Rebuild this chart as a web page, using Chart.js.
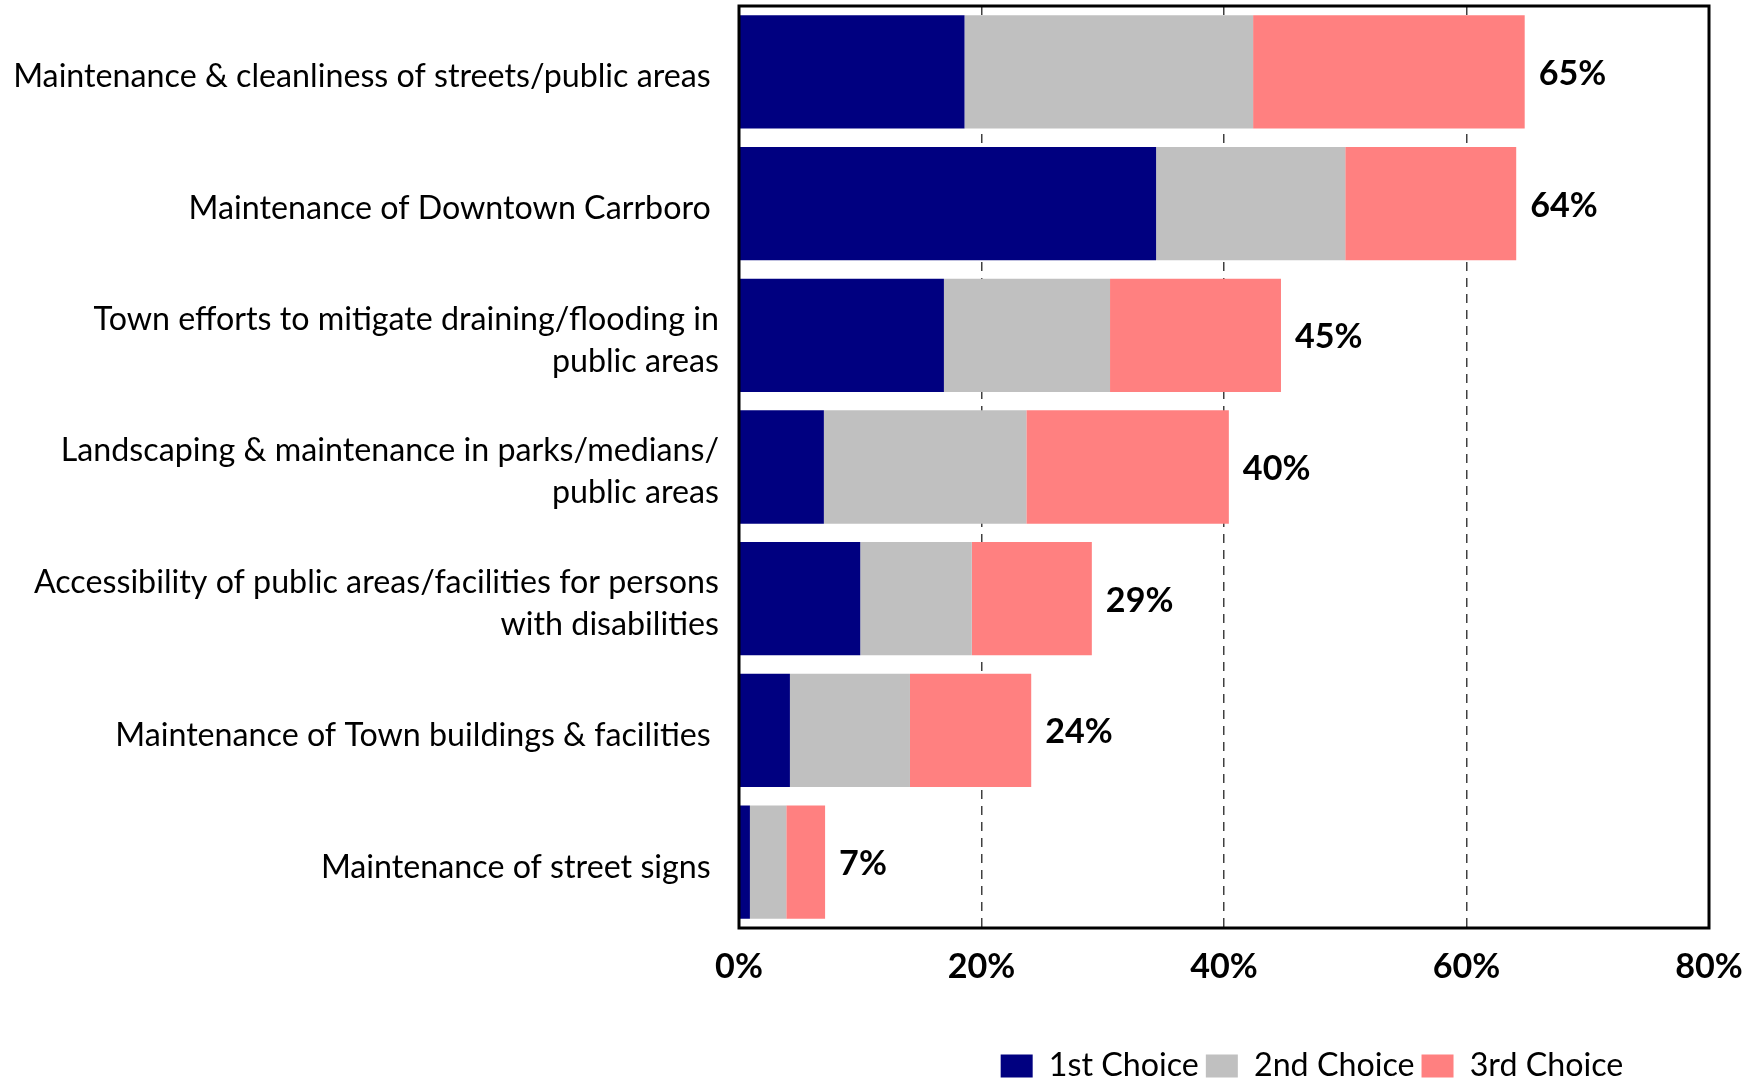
<!DOCTYPE html>
<html>
<head>
<meta charset="utf-8">
<script src="https://cdn.jsdelivr.net/npm/chart.js@4/dist/chart.umd.min.js"></script>
<style>
html,body{margin:0;padding:0;background:#fff;}
#wrap{width:1754px;height:1078px;position:relative;}
</style>
</head>
<body>
<div id="wrap"><canvas id="c" width="1754" height="1078"></canvas></div>
<script>
// ---- data ----
const categories = [
  'Maintenance & cleanliness of streets/public areas ',
  'Maintenance of Downtown Carrboro ',
  ['Town efforts to mitigate draining/flooding in', 'public areas'],
  ['Landscaping & maintenance in parks/medians/', 'public areas'],
  ['Accessibility of public areas/facilities for persons', 'with disabilities'],
  'Maintenance of Town buildings & facilities ',
  'Maintenance of street signs '
];
const seriesNames = ['1st Choice', '2nd Choice', '3rd Choice'];
const firstChoice  = [18.6, 34.4, 16.9, 7.0, 10.0, 4.2, 0.9];
const secondChoice = [23.8, 15.6, 13.7, 16.7, 9.2, 9.9, 3.0];
const thirdChoice  = [22.4, 14.1, 14.1, 16.7, 9.9, 10.0, 3.2];
const totalLabels  = ['65%', '64%', '45%', '40%', '29%', '24%', '7%'];
const xTickValues  = [0, 20, 40, 60, 80];

// ---- styling ----
const colors = ['#000080', '#C0C0C0', '#FF8080'];
const FONT = 'Lato';
const mctx = document.createElement('canvas').getContext('2d');
mctx.font = '34px ' + FONT;
const k = 698 / mctx.measureText('Maintenance & cleanliness of streets/public areas').width;
const fsReg = 34 * k;
const fsBold = 36 * k;

const PLOT_BOTTOM = 928;
const LEG_PAD = 7;
const legendHeight = fsReg + LEG_PAD + 10;

const framePlugin = {
  id: 'frame',
  afterDatasetsDraw(chart) {
    const {ctx, chartArea: a, scales} = chart;
    ctx.save();
    // totals
    ctx.font = 'bold ' + fsBold + 'px ' + FONT;
    ctx.fillStyle = '#000';
    ctx.textAlign = 'left';
    ctx.textBaseline = 'middle';
    for (let i = 0; i < categories.length; i++) {
      const sum = firstChoice[i] + secondChoice[i] + thirdChoice[i];
      const x = scales.x.getPixelForValue(sum) + 14;
      const y = scales.y.getPixelForValue(i) + 2;
      ctx.fillText(totalLabels[i], x, y);
    }
    // frame
    ctx.strokeStyle = '#000';
    ctx.lineWidth = 3;
    ctx.strokeRect(a.left, a.top, a.right - a.left, a.bottom - a.top);
    ctx.restore();
  }
};

const legendPosPlugin = {
  id: 'legendPos',
  afterLayout(chart) {
    const lg = chart.legend;
    if (!lg) return;
    const h = lg.height;
    const itemH = Math.max(fsReg, 23);
    lg.top = 1066 - LEG_PAD - itemH / 2;
    lg.bottom = lg.top + h;
    const w = lg.right - lg.left;
    const cx = 1312;
    lg.left = cx - w / 2;
    lg.right = cx + w / 2;
  }
};

const seriesData = [firstChoice, secondChoice, thirdChoice];

new Chart(document.getElementById('c'), {
  type: 'bar',
  data: {
    labels: categories,
    datasets: seriesNames.map((n, i) => ({
      label: n,
      data: seriesData[i],
      backgroundColor: colors[i],
      borderWidth: 0,
      barPercentage: 0.86,
      categoryPercentage: 1.0
    }))
  },
  options: {
    indexAxis: 'y',
    responsive: false,
    animation: false,
    devicePixelRatio: 1,
    layout: { padding: { top: 6, right: 45, left: 0, bottom: 0 } },
    plugins: {
      tooltip: { enabled: false },
      legend: {
        position: 'bottom',
        align: 'center',
        labels: {
          boxWidth: 32,
          boxHeight: 23,
          padding: LEG_PAD,
          color: '#000',
          font: { family: FONT, size: fsReg }
        }
      }
    },
    scales: {
      x: {
        stacked: true,
        min: 0,
        max: 80,
        afterBuildTicks(scale) { scale.ticks = xTickValues.map(v => ({ value: v })); },
        afterFit(scale) {
          scale.height = 1078 - PLOT_BOTTOM - legendHeight;
          scale.paddingLeft = 0; scale.paddingRight = 0;
          scale.paddingTop = 0; scale.paddingBottom = 0;
        },
        ticks: {
          callback: v => v + '%',
          color: '#000',
          padding: 38.5 - 0.6 * fsBold,
          maxRotation: 0,
          font: { family: FONT, size: fsBold, weight: 'bold' }
        },
        grid: {
          drawTicks: false,
          lineWidth: 1.5,
          color: c => (c.tick && (c.tick.value === 0 || c.tick.value === 80)) ? 'rgba(0,0,0,0)' : '#404040'
        },
        border: { display: false, dash: [9, 7] }
      },
      y: {
        stacked: true,
        afterFit(scale) {
          scale.width = 739;
          scale.paddingLeft = 0; scale.paddingRight = 0;
          scale.paddingTop = 0; scale.paddingBottom = 0;
        },
        ticks: {
          color: '#000',
          padding: 20,
          labelOffset: 5,
          font: { family: FONT, size: fsReg, lineHeight: '42px' }
        },
        grid: { display: false, drawTicks: false },
        border: { display: false }
      }
    }
  },
  plugins: [framePlugin, legendPosPlugin]
});
</script>
</body>
</html>
